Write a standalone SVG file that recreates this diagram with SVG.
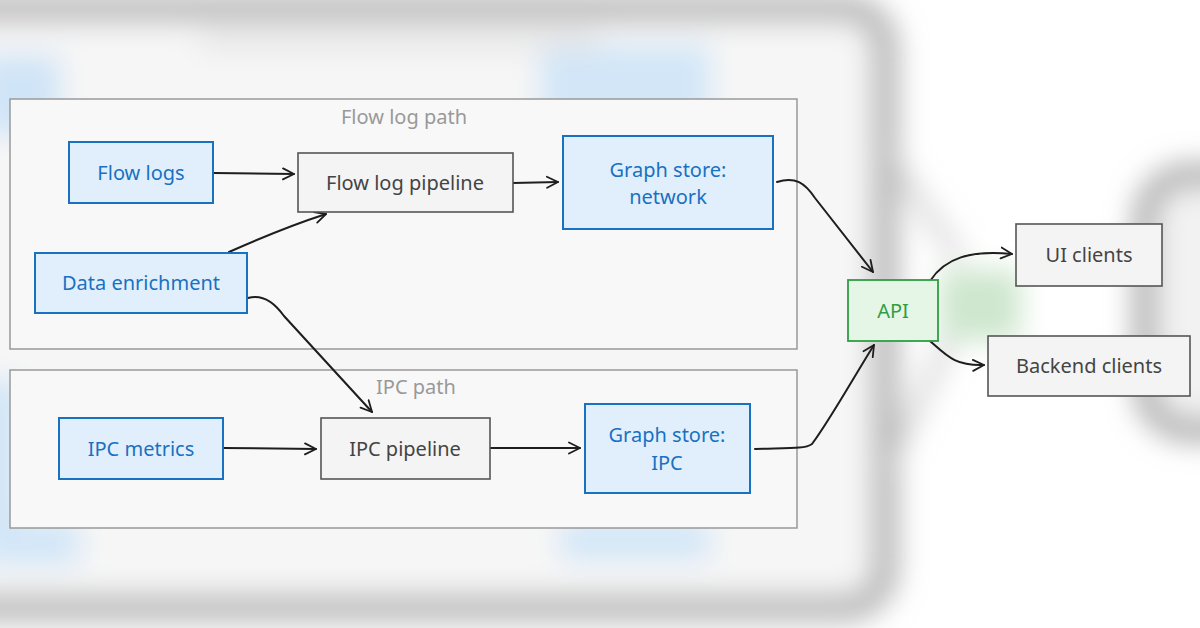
<svg xmlns="http://www.w3.org/2000/svg" width="1200" height="628" viewBox="0 0 1200 628">
<defs>
<filter id="bg-blur" x="-20%" y="-20%" width="140%" height="140%"><feGaussianBlur stdDeviation="14"/></filter>
<marker id="arr" viewBox="0 0 14 14" refX="12" refY="7" markerWidth="14" markerHeight="14" markerUnits="userSpaceOnUse" orient="auto">
<path d="M1,1.5 L12,7 L1,12.5" fill="none" stroke="#1e1e1e" stroke-width="1.8" stroke-linecap="round" stroke-linejoin="round"/>
</marker>
<style>
.frame{fill:#f8f8f8;stroke:#999;stroke-width:1.5}
.blue{fill:#e1effc;stroke:#1971c2;stroke-width:2}
.gray{fill:#f4f4f4;stroke:#555;stroke-width:1.6}
.green{fill:#e6f6e6;stroke:#2f9e44;stroke-width:1.8}
.t{font-family:"Noto Sans","Liberation Sans",sans-serif;font-size:20px;text-anchor:middle;dominant-baseline:central}
.tb{fill:#1971c2}
.tg{fill:#444}
.tgr{fill:#2f9e44}
.tl{fill:#999}
.conn path{fill:none;stroke:#1e1e1e;stroke-width:2;stroke-linecap:round;marker-end:url(#arr)}
</style>
</defs>
<rect width="1200" height="628" fill="#ffffff"/>
<g id="background" filter="url(#bg-blur)">
<rect x="-60" y="8" width="945" height="600" rx="40" fill="#f6f6f6" stroke="#b4b4b4" stroke-width="26"/>
<rect x="-20" y="55" width="80" height="80" fill="#cfe4f7"/>
<rect x="540" y="45" width="170" height="80" fill="#d2e6f8"/>
<rect x="-20" y="380" width="40" height="170" fill="#cfe4f7"/>
<rect x="-20" y="520" width="100" height="45" fill="#d2e6f8"/>
<rect x="560" y="520" width="150" height="40" fill="#d2e6f8"/>
<rect x="200" y="30" width="400" height="20" fill="#e6e6e6"/>
<rect x="940" y="270" width="80" height="70" fill="#cde6cd"/>
<rect x="1145" y="175" width="120" height="255" rx="45" fill="#f2f2f2" stroke="#a8a8a8" stroke-width="22"/>
<path d="M885,150 L960,260" stroke="#c4c4c4" stroke-width="10" fill="none"/>
<path d="M885,470 L950,340" stroke="#c4c4c4" stroke-width="10" fill="none"/>
</g>
<g id="flow-log-path">
<rect class="frame" x="10" y="99" width="787" height="250"/>
<text class="t tl" x="404" y="116">Flow log path</text>
</g>
<g id="ipc-path">
<rect class="frame" x="10" y="370" width="787" height="158"/>
<text class="t tl" x="416" y="386">IPC path</text>
</g>
<g class="conn" id="connectors">
<path d="M214,173 L294,174"/>
<path d="M229,252 C265,236 295,224 326,214"/>
<path d="M513,183 L558,182"/>
<path d="M248,298 C262,294 274,302 284,316 L372,412"/>
<path d="M223,448 L316,449"/>
<path d="M490,448 L580,448"/>
<path d="M777,182 C795,176 805,183 815,198 L873,272"/>
<path d="M755,449 C790,448 805,449 812,444 C830,420 855,375 874,345"/>
<path d="M930,281 C945,258 970,250 1012,254"/>
<path d="M930,341 C947,356 955,366 984,365"/>
</g>
<g id="flow-logs"><rect class="blue" x="69" y="142" width="144" height="61"/><text class="t tb" x="141" y="172">Flow logs</text></g>
<g id="flow-log-pipeline"><rect class="gray" x="298" y="153" width="215" height="59"/><text class="t tg" x="405" y="182">Flow log pipeline</text></g>
<g id="data-enrichment"><rect class="blue" x="35" y="253" width="212" height="60"/><text class="t tb" x="141" y="282">Data enrichment</text></g>
<g id="graph-store-network"><rect class="blue" x="563" y="136" width="210" height="93"/><text class="t tb" x="668" y="169">Graph store:</text><text class="t tb" x="668" y="196">network</text></g>
<g id="ipc-metrics"><rect class="blue" x="59" y="418" width="164" height="61"/><text class="t tb" x="141" y="448">IPC metrics</text></g>
<g id="ipc-pipeline"><rect class="gray" x="321" y="418" width="169" height="61"/><text class="t tg" x="405" y="448">IPC pipeline</text></g>
<g id="graph-store-ipc"><rect class="blue" x="585" y="404" width="165" height="89"/><text class="t tb" x="667" y="434">Graph store:</text><text class="t tb" x="667" y="462">IPC</text></g>
<g id="api"><rect class="green" x="848" y="280" width="90" height="61"/><text class="t tgr" x="893" y="310">API</text></g>
<g id="ui-clients"><rect class="gray" x="1016" y="224" width="146" height="62"/><text class="t tg" x="1089" y="254">UI clients</text></g>
<g id="backend-clients"><rect class="gray" x="988" y="336" width="202" height="60"/><text class="t tg" x="1089" y="365">Backend clients</text></g>
</svg>
